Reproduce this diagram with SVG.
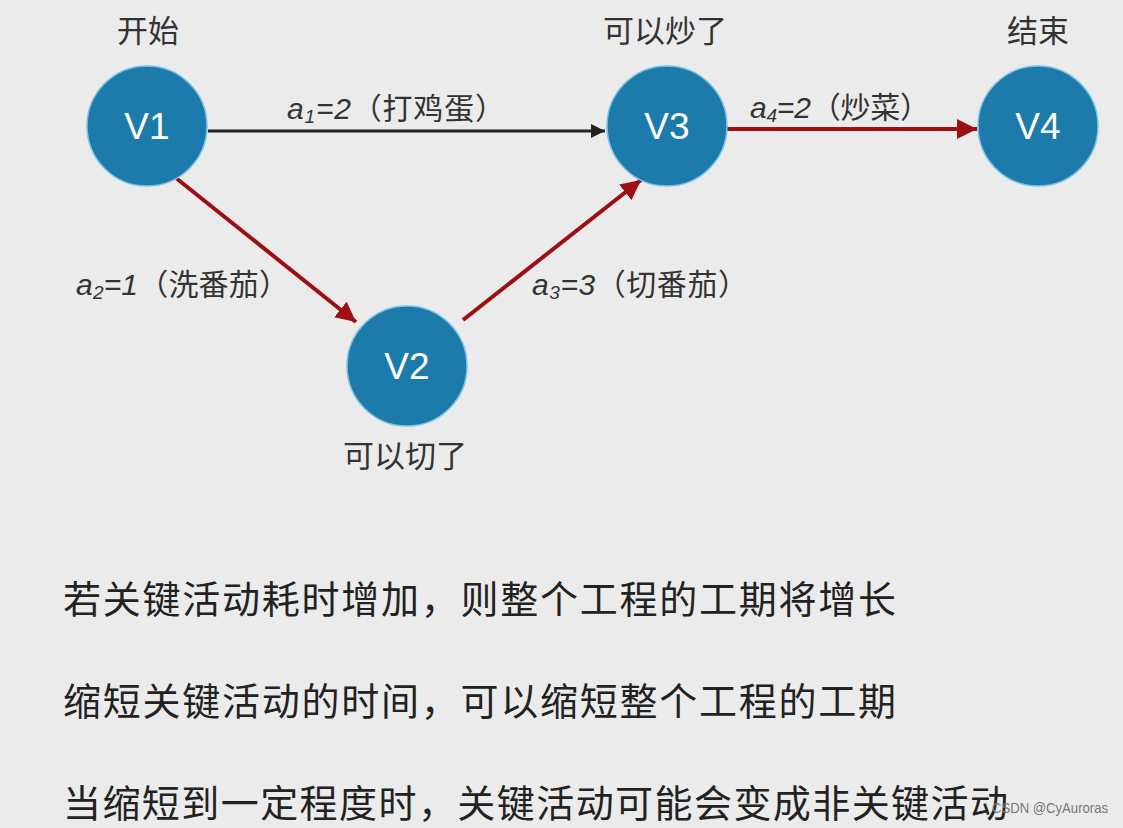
<svg xmlns="http://www.w3.org/2000/svg" width="1123" height="828" viewBox="0 0 1123 828">
<defs>
<style>
.bg{fill:#ebebeb}
.node circle{fill:#1d7bab;stroke:#7cc4e4;stroke-width:1.5}
.node text.v{fill:#ffffff;font-family:"Liberation Sans","Noto Sans CJK SC",sans-serif;font-size:37px;text-anchor:middle}
.cap{fill:#333333;font-family:"Liberation Sans","Noto Sans CJK SC",sans-serif;font-size:31px;text-anchor:middle}
.elab{fill:#333333;font-family:"Liberation Sans","Noto Sans CJK SC",sans-serif;font-size:30px}
.it{font-style:italic}
.sub{font-style:italic;font-size:19px}
.red{stroke:#9c1014;stroke-width:4;fill:none}
.blk{stroke:#222222;stroke-width:3;fill:none}
.note{fill:#222222;font-family:"Noto Sans CJK SC","Liberation Sans",sans-serif;font-size:38px}
.wm{fill:#777777;font-family:"Liberation Sans",sans-serif;font-size:14px}
</style>
<marker id="arrRed" markerUnits="userSpaceOnUse" markerWidth="20" markerHeight="20" refX="20" refY="10" orient="auto">
<path d="M0,0 L20,10 L0,20 z" fill="#9c1014"/>
</marker>
<marker id="arrBlk" markerUnits="userSpaceOnUse" markerWidth="14" markerHeight="14" refX="14" refY="7" orient="auto">
<path d="M0,0 L14,7 L0,14 z" fill="#222222"/>
</marker>
</defs>
<rect class="bg" x="0" y="0" width="1123" height="828"/>

<g id="connectors">
<g id="e-v1-v3">
<line class="blk" x1="208" y1="131" x2="605" y2="131" marker-end="url(#arrBlk)"/>
<text class="elab" x="287" y="119" textLength="218" lengthAdjust="spacing"><tspan class="it">a</tspan><tspan class="sub" dy="4">1</tspan><tspan class="it" dy="-4">=2</tspan><tspan>（打鸡蛋）</tspan></text>
</g>
<g id="e-v3-v4">
<line class="red" x1="727" y1="129" x2="977" y2="129" marker-end="url(#arrRed)"/>
<text class="elab" x="750" y="118" textLength="180" lengthAdjust="spacing"><tspan class="it">a</tspan><tspan class="sub" dy="4">4</tspan><tspan class="it" dy="-4">=2</tspan><tspan>（炒菜）</tspan></text>
</g>
<g id="e-v1-v2">
<line class="red" x1="176" y1="178" x2="356" y2="322" marker-end="url(#arrRed)"/>
<text class="elab" x="76" y="295" textLength="213" lengthAdjust="spacing"><tspan class="it">a</tspan><tspan class="sub" dy="4">2</tspan><tspan class="it" dy="-4">=1</tspan><tspan>（洗番茄）</tspan></text>
</g>
<g id="e-v2-v3">
<line class="red" x1="463" y1="320" x2="641" y2="180" marker-end="url(#arrRed)"/>
<text class="elab" x="532" y="295" textLength="216" lengthAdjust="spacing"><tspan class="it">a</tspan><tspan class="sub" dy="4">3</tspan><tspan class="it" dy="-4">=3</tspan><tspan>（切番茄）</tspan></text>
</g>
</g>

<g id="V1" class="node">
<circle cx="147" cy="126" r="60"/>
<text class="v" x="147" y="139">V1</text>
<text class="cap" x="148" y="42">开始</text>
</g>
<g id="V2" class="node">
<circle cx="407" cy="366" r="60"/>
<text class="v" x="407" y="379">V2</text>
<text class="cap" x="405" y="467">可以切了</text>
</g>
<g id="V3" class="node">
<circle cx="667" cy="126" r="60"/>
<text class="v" x="667" y="139">V3</text>
<text class="cap" x="665" y="42">可以炒了</text>
</g>
<g id="V4" class="node">
<circle cx="1038" cy="126" r="60"/>
<text class="v" x="1038" y="139">V4</text>
<text class="cap" x="1038" y="42">结束</text>
</g>

<g id="notes">
<text class="note" x="63" y="613" textLength="833" lengthAdjust="spacing">若关键活动耗时增加，则整个工程的工期将增长</text>
<text class="note" x="63" y="715" textLength="833" lengthAdjust="spacing">缩短关键活动的时间，可以缩短整个工程的工期</text>
<text class="note" x="63" y="817" textLength="945" lengthAdjust="spacing">当缩短到一定程度时，关键活动可能会变成非关键活动</text>
</g>
<text class="wm" x="992" y="813" textLength="116" lengthAdjust="spacingAndGlyphs">CSDN @CyAuroras</text>
</svg>
